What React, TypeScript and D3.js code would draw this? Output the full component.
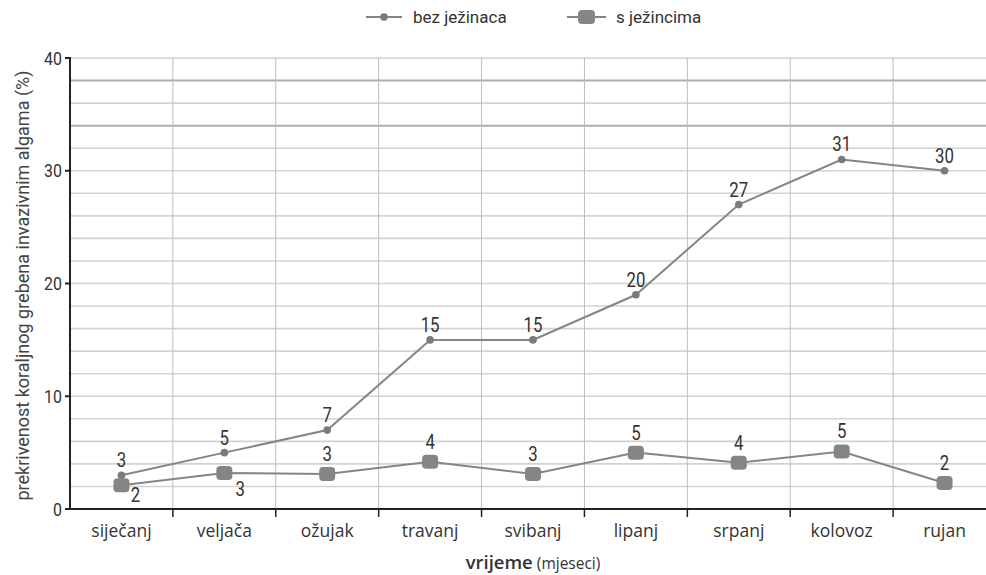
import React from "react";
import * as d3 from "d3";

const months = ["siječanj", "veljača", "ožujak", "travanj", "svibanj", "lipanj", "srpanj", "kolovoz", "rujan"];
const bezValues = [3, 5, 7, 15, 15, 19, 27, 31, 30];
const bezLabels = ["3", "5", "7", "15", "15", "20", "27", "31", "30"];
const sValues = [2.1, 3.2, 3.1, 4.2, 3.1, 5, 4.1, 5.1, 2.3];
const sLabels = ["2", "3", "3", "4", "3", "5", "4", "5", "2"];
const yTicks = [0, 10, 20, 30, 40];
const gridValues = d3.range(2, 41, 2);
const darkGrid = [38, 34];

const W = 986, H = 575;
const left = 70, right = 996, top = 58, bottom = 509;
const font = "Roboto, 'Liberation Sans', sans-serif";
const textCol = "#333";

function Num({ x, y, children, anchor = "middle", size = 20 }: { x: number; y: number; children: React.ReactNode; anchor?: string; size?: number }) {
  return (
    <text transform={`translate(${x},${y}) scale(0.84,1)`} textAnchor={anchor as any} fontFamily={font} fontSize={size} fill={textCol}>
      {children}
    </text>
  );
}

export default function App() {
  const x = d3.scaleBand().domain(months).range([left, right]).padding(0);
  const y = d3.scaleLinear().domain([0, 40]).range([bottom, top]);
  const cx = (m: string) => (x(m) as number) + x.bandwidth() / 2;
  const line = d3.line<number>().x((_, i) => cx(months[i])).y((d) => y(d));
  const boundaries = months.slice(1).map((m) => x(m) as number);
  const sLabelPos = (i: number) => (i === 0 ? { dx: 14, dy: 17 } : i === 1 ? { dx: 16, dy: 23 } : { dx: 0, dy: -13 });

  return (
    <svg width={W} height={H} style={{ position: "absolute", left: 0, top: 0, background: "#fff" }}>
      {gridValues.map((v) => (
        <line key={"g" + v} x1={left} x2={W} y1={y(v)} y2={y(v)}
          stroke={darkGrid.includes(v) ? "#ababab" : "#d2d2d2"} strokeWidth={darkGrid.includes(v) ? 2 : 1.6} />
      ))}
      {boundaries.map((b, i) => (
        <line key={"v" + i} x1={b} x2={b} y1={top} y2={bottom} stroke="#bdbdbd" strokeWidth={1} />
      ))}
      <line x1={left} x2={left} y1={top - 1} y2={bottom + 1} stroke="#222" strokeWidth={2} />
      <line x1={left - 1} x2={W} y1={bottom} y2={bottom} stroke="#222" strokeWidth={2} />
      {yTicks.map((t) => (
        <g key={"t" + t}>
          <line x1={left - 5} x2={left} y1={y(t)} y2={y(t)} stroke="#222" strokeWidth={2} />
          <Num x={left - 8} y={y(t) + 6.5} anchor="end" size={19}>{t}</Num>
        </g>
      ))}
      {boundaries.map((b, i) => (
        <line key={"xt" + i} x1={b} x2={b} y1={bottom} y2={bottom + 8} stroke="#222" strokeWidth={1.5} />
      ))}
      {months.map((m) => (
        <text key={"xl" + m} x={cx(m)} y={537} textAnchor="middle" fontFamily="'Open Sans', sans-serif" fontSize={17.5} fill={textCol}>{m}</text>
      ))}
      <text x={533} y={569} textAnchor="middle" fontFamily="'Open Sans', sans-serif" fill={textCol}>
        <tspan fontSize={18.5} fontWeight={600}>vrijeme</tspan>
        <tspan fontSize={15.5}> (mjeseci)</tspan>
      </text>
      <text transform={`translate(29,${(top + bottom) / 2 + 2}) rotate(-90)`} textAnchor="middle" fontFamily={font} fontSize={18} fill="#444">
        prekrivenost koraljnog grebena invazivnim algama (%)
      </text>

      <path d={line(sValues) || ""} fill="none" stroke="#858585" strokeWidth={2} />
      {sValues.map((v, i) => (
        <rect key={"sr" + i} x={cx(months[i]) - 8} y={y(v) - 7} width={16} height={14} rx={4} fill="#858585" />
      ))}
      {sValues.map((v, i) => {
        const p = sLabelPos(i);
        return <Num key={"sl" + i} x={cx(months[i]) + p.dx} y={y(v) + p.dy}>{sLabels[i]}</Num>;
      })}

      <path d={line(bezValues) || ""} fill="none" stroke="#858585" strokeWidth={2} />
      {bezValues.map((v, i) => (
        <circle key={"bc" + i} cx={cx(months[i])} cy={y(v)} r={3.8} fill="#7a7a7a" />
      ))}
      {bezValues.map((v, i) => (
        <Num key={"bl" + i} x={cx(months[i])} y={y(v) - 8}>{bezLabels[i]}</Num>
      ))}

      <line x1={366} x2={402} y1={17} y2={17} stroke="#858585" strokeWidth={2} />
      <circle cx={384} cy={17} r={3.8} fill="#7a7a7a" />
      <text x={413} y={17} dy="0.35em" fontFamily={font} fontSize={17} fill={textCol}>bez ježinaca</text>
      <line x1={567} x2={606} y1={17} y2={17} stroke="#858585" strokeWidth={2} />
      <rect x={578} y={10} width={17} height={14} rx={4} fill="#858585" />
      <text x={616} y={17} dy="0.35em" fontFamily={font} fontSize={17} fill={textCol}>s ježincima</text>
    </svg>
  );
}
